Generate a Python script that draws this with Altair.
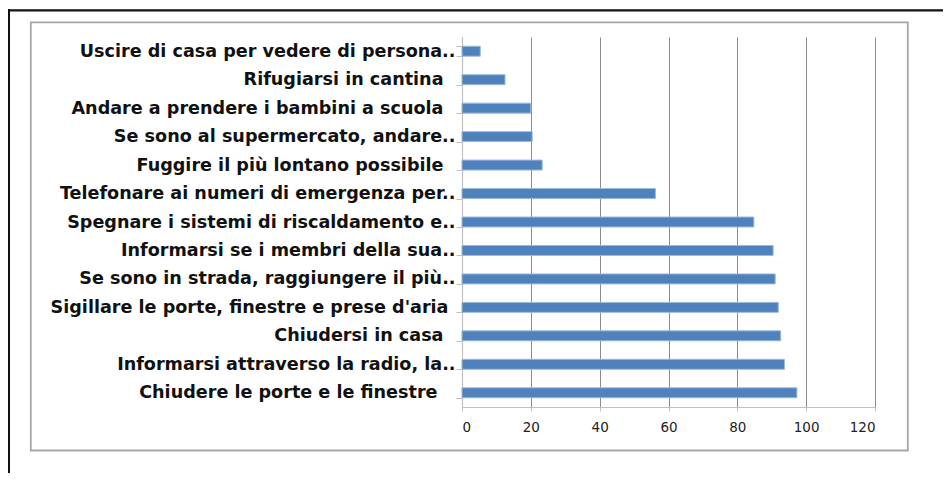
import altair as alt
import pandas as pd

categories = [
    "Uscire di casa per vedere di persona..",
    "Rifugiarsi in cantina",
    "Andare a prendere i bambini a scuola",
    "Se sono al supermercato, andare..",
    "Fuggire il più lontano possibile",
    "Telefonare ai numeri di emergenza per..",
    "Spegnare i sistemi di riscaldamento e..",
    "Informarsi se i membri della sua..",
    "Se sono in strada, raggiungere il più..",
    "Sigillare le porte, finestre e prese d'aria",
    "Chiudersi in casa",
    "Informarsi attraverso la radio, la..",
    "Chiudere le porte e le finestre",
]
values = [5.3, 12.5, 20.0, 20.4, 23.3, 56.2, 84.8, 90.4, 91.0, 91.9, 92.6, 93.7, 97.3]
x_ticks = [0, 20, 40, 60, 80, 100, 120]

df = pd.DataFrame({"cat": categories, "val": values})
one = pd.DataFrame({"k": [0]})

W, H = 413, 370

label_pad = {
    "condition": [
        {"test": "datum.label === 'Chiudere le porte e le finestre'", "value": 19},
        {"test": "datum.label === \"Sigillare le porte, finestre e prese d'aria\"", "value": 8},
        {"test": "slice(datum.label, -2) !== '..'", "value": 13},
    ],
    "value": 1,
}

bars = alt.Chart(df).mark_bar(
    color="#4F81BD", stroke="#9CB8DD", strokeWidth=1
).encode(
    x=alt.X(
        "val:Q",
        scale=alt.Scale(domain=[0, 120], nice=False),
        axis=alt.Axis(
            values=x_ticks,
            title=None,
            grid=True,
            gridColor={"condition": {"test": "datum.value === 0", "value": "#c8c8c8"}, "value": "#8c8c8c"},
            gridWidth=1,
            domainColor="#c0c0c0",
            domainWidth=1.2,
            tickColor="#c0c0c0",
            tickSize=4,
            labelFont="DejaVu Sans",
            labelFontSize=13.5,
            labelColor="#222222",
            labelPadding=9,
        ),
    ),
    y=alt.Y(
        "cat:N",
        sort=None,
        scale=alt.Scale(paddingInner=0.65, paddingOuter=0.325),
        axis=alt.Axis(
            title=None,
            grid=False,
            tickBand="extent",
            tickSize=6,
            tickColor="#c0c0c0",
            domainColor="#c0c0c0",
            domainWidth=1.2,
            labelFont="DejaVu Sans",
            labelFontWeight="bold",
            labelFontSize=17.6,
            labelColor="#111111",
            labelPadding=label_pad,
            labelLimit=600,
        ),
    ),
)

frame = alt.Chart(one).mark_rect(
    filled=False, fillOpacity=0, stroke="#a6a6a6", strokeWidth=1.8
).encode(
    x=alt.value(-431.2), x2=alt.value(445.8),
    y=alt.value(-14.7), y2=alt.value(413.5),
)

top_line = alt.Chart(one).mark_rule(color="#111111", strokeWidth=2.4).encode(
    x=alt.value(-455), x2=alt.value(500), y=alt.value(-26.6), y2=alt.value(-26.6)
)
left_line = alt.Chart(one).mark_rule(color="#111111", strokeWidth=2.4).encode(
    x=alt.value(-453.2), x2=alt.value(-453.2), y=alt.value(-28), y2=alt.value(460)
)

chart = alt.layer(frame, top_line, left_line, bars).properties(
    width=W, height=H,
    autosize=alt.AutoSizeParams(type="none"),
    padding={"left": 454, "top": 29, "right": 68, "bottom": 66},
    background="white",
).configure_view(stroke=None)

chart.save("out.html", embed_options={"renderer": "svg", "actions": False})
